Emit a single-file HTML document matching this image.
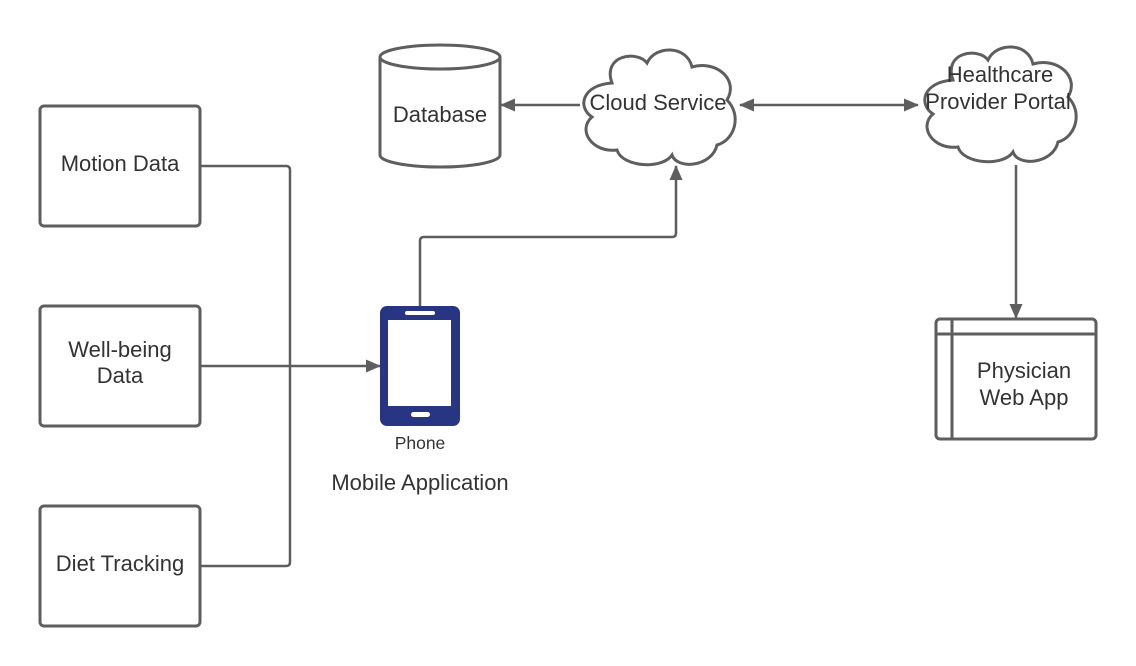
<!DOCTYPE html>
<html><head><meta charset="utf-8"><style>
html,body{margin:0;padding:0;background:#fff;}
svg{display:block;}
text{font-family:"Liberation Sans",sans-serif;fill:#333;}
</style></head><body>
<svg width="1136" height="666" viewBox="0 0 1136 666" xmlns="http://www.w3.org/2000/svg">
<defs>
<marker id="ah" markerWidth="15" markerHeight="13" refX="14" refY="6.5" orient="auto" markerUnits="userSpaceOnUse">
<path d="M0,0 L15,6.5 L0,13 Z" fill="#5e5e5e"/>
</marker>
<marker id="ahs" markerWidth="15" markerHeight="13" refX="1" refY="6.5" orient="auto" markerUnits="userSpaceOnUse">
<path d="M15,0 L0,6.5 L15,13 Z" fill="#5e5e5e"/>
</marker>
<path id="cloud" d="M35,38 C25,10 60,5 70,18 C78,0 110,0 115,22 C140,15 162,35 150,55 C165,70 158,95 140,100 C135,122 100,125 95,110 C85,125 45,122 40,105 C15,108 0,85 15,72 C0,62 5,40 35,38 Z"/>
</defs>
<g fill="#fff" stroke="#5e5e5e" stroke-width="3">
<rect x="40" y="106" width="160" height="120" rx="4"/>
<rect x="40" y="306" width="160" height="120" rx="4"/>
<rect x="40" y="506" width="160" height="120" rx="4"/>
</g>
<text x="120" y="171" font-size="22" text-anchor="middle">Motion Data</text>
<text x="120" y="357" font-size="22" text-anchor="middle">Well-being</text>
<text x="120" y="383" font-size="22" text-anchor="middle">Data</text>
<text x="120" y="571" font-size="22" text-anchor="middle">Diet Tracking</text>
<g fill="none" stroke="#5e5e5e" stroke-width="2.5">
<path d="M200,166 H286 Q290,166 290,170 V562 Q290,566 286,566 H200"/>
<path d="M200,366 H380" marker-end="url(#ah)"/>
<path d="M420,306 V241 Q420,237 424,237 H672 Q676,237 676,233 V166" marker-end="url(#ah)"/>
<path d="M580,105 H501" marker-end="url(#ah)"/>
<path d="M740,105 H918" marker-start="url(#ahs)" marker-end="url(#ah)"/>
<path d="M1016,165 V318" marker-end="url(#ah)"/>
</g>
<rect x="380" y="306" width="80" height="120" rx="7" fill="#283583"/>
<rect x="388" y="320" width="63" height="86" fill="#fff"/>
<rect x="405" y="311" width="30" height="4" rx="2" fill="#fff"/>
<rect x="411" y="412" width="19" height="5" rx="2.5" fill="#fff"/>
<text x="420" y="449" font-size="17.5" text-anchor="middle" fill="#000">Phone</text>
<text x="420" y="490" font-size="22" text-anchor="middle">Mobile Application</text>
<g fill="#fff" stroke="#5e5e5e" stroke-width="3">
<path d="M380,57 V155 A60,12 0 0 0 500,155 V57"/>
<ellipse cx="440" cy="57" rx="60" ry="12"/>
</g>
<text x="440" y="122" font-size="22" text-anchor="middle">Database</text>
<use href="#cloud" transform="translate(577,45)" fill="#fff" stroke="#5e5e5e" stroke-width="3"/>
<text x="658" y="110" font-size="22" text-anchor="middle">Cloud Service</text>
<use href="#cloud" transform="translate(918,42)" fill="#fff" stroke="#5e5e5e" stroke-width="3"/>
<text x="1000" y="82" font-size="22" text-anchor="middle">Healthcare</text>
<text x="998" y="109" font-size="22" text-anchor="middle">Provider Portal</text>
<g fill="#fff" stroke="#5e5e5e" stroke-width="3">
<rect x="936" y="319" width="160" height="120" rx="4"/>
<path d="M952,319 V439 M936,334 H1096" fill="none"/>
</g>
<text x="1024" y="378" font-size="22" text-anchor="middle">Physician</text>
<text x="1024" y="405" font-size="22" text-anchor="middle">Web App</text>
</svg>
</body></html>
